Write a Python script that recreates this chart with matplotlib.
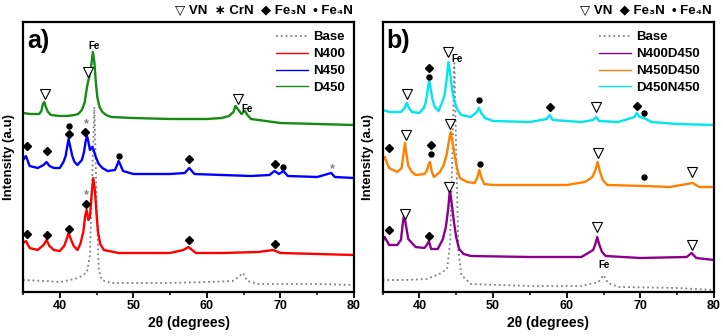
import matplotlib
matplotlib.use("Agg")
import matplotlib.pyplot as plt
from matplotlib.ticker import MultipleLocator
from matplotlib.lines import Line2D

plt.rcParams['font.family'] = ['Liberation Sans', 'DejaVu Sans']
plt.rcParams['font.weight'] = 'bold'

# ---------------- Panel a data (2theta, intensity a.u.) ----------------
base_a_x = [35, 38, 40, 42, 43, 43.7, 44.1, 44.4, 44.7, 45.0, 45.3, 45.7, 47, 55, 60, 63.5, 64.3, 64.9, 65.5, 67, 75, 80]
base_a_y = [12, 11, 10, 13, 16, 20, 37, 112, 185, 92, 22, 12, 9, 9, 10, 11, 15, 19, 11, 8, 8, 7]

n400_x = [35, 35.4, 35.9, 37, 37.8, 38.2, 38.6, 39.2, 40, 40.6, 40.9, 41.2, 41.5, 41.9, 42.4, 42.8, 43.2, 43.45, 43.65,
          43.9, 44.1, 44.3, 44.55, 44.8, 45.0, 45.2, 45.5, 46, 48, 55, 56.8, 57.5, 58.5, 62, 67, 69, 70, 75, 80]
n400_y = [49, 51, 44, 42, 47, 52, 46, 42, 41, 46, 52, 59, 53, 46, 42, 48, 60, 76, 82,
          72, 75, 95, 114, 100, 78, 60, 48, 42, 39, 39, 42, 45, 39, 39, 40, 42, 39, 38, 37]

n450_x = [35, 35.4, 35.9, 37, 37.8, 38.2, 38.6, 39.2, 40, 40.5, 40.8, 41.0, 41.2, 41.4, 41.7, 42.0, 42.4, 43.0, 43.3,
          43.5, 43.7, 43.9, 44.1, 44.4, 44.6, 44.9, 45.3, 45.8, 46.5, 47.5, 47.8, 48.0, 48.2, 48.6, 50, 55, 57, 57.6,
          58.3, 62, 66, 68.5, 69.2, 69.8, 70.4, 71, 75, 76.9, 77.4, 80]
n450_y = [132, 136, 126, 124, 127, 130, 126, 124, 124, 130, 136, 145, 153, 146, 136, 130, 127, 132, 140,
          150, 156, 150, 142, 145, 142, 135, 128, 124, 121, 122, 127, 131, 128, 121, 118, 118, 119, 124,
          118, 117, 116, 117, 121, 118, 121, 116, 115, 119, 115, 114]

d450_x = [35, 36, 37.2, 37.5, 37.7, 37.9, 38.1, 38.4, 38.8, 40, 41, 42, 42.5, 43, 43.4, 43.7, 43.9, 44.1, 44.3, 44.5,
          44.7, 44.9, 45.1, 45.4, 45.8, 46.3, 47, 50, 55, 60, 62, 63, 63.6, 63.9, 64.1, 64.4, 64.7, 65.0, 65.2, 65.5,
          66, 70, 75, 80]
d450_y = [179, 178, 178, 181, 188, 190, 185, 180, 177, 176, 176, 177, 178, 182, 190, 205, 212, 218, 228, 240,
          230, 210, 195, 185, 180, 177, 175, 174, 173, 173, 174, 176, 180, 186, 184, 181, 178, 180, 181, 177,
          173, 169, 168, 167]

# ---------------- Panel b data ----------------
base_b_x = [35, 38, 41, 43, 43.8, 44.2, 44.5, 44.75, 45.0, 45.3, 45.7, 47, 55, 62, 64.3, 65.0, 65.6, 67, 75, 80]
base_b_y = [12, 12, 13, 19, 24, 52, 142, 229, 142, 42, 17, 8, 6, 6, 10, 17, 9, 5, 4, 2]

n400d450_x = [35, 35.3, 35.9, 37, 37.5, 37.75, 37.95, 38.15, 38.5, 39.5, 40.7, 41.1, 41.3, 41.6, 42.5, 43.2, 43.6,
              43.9, 44.15, 44.4, 44.7, 45.0, 45.4, 46, 47, 55, 62, 63.6, 63.9, 64.15, 64.4, 64.8, 65.3, 70, 76.3,
              76.95, 77.6, 80]
n400d450_y = [50, 55, 47, 47, 52, 68, 79, 68, 53, 45, 44, 48, 51, 43, 43, 53, 65,
              82, 102, 88, 70, 55, 43, 38, 36, 35, 35, 42, 48, 55, 48, 40, 36, 34, 35,
              39, 34, 32]

n450d450_x = [35, 35.3, 35.9, 37, 37.6, 37.85, 38.05, 38.25, 38.5, 39, 39.5, 40.7, 41.0, 41.3, 41.45, 41.7, 42, 42.8,
              43.3, 43.7, 44.0, 44.25, 44.5, 44.8, 45.1, 45.5, 46.5, 47.5, 47.9, 48.15, 48.4, 48.8, 50, 60, 62.5, 63.5,
              63.9, 64.2, 64.5, 64.9, 65.5, 70.5, 74, 77.1, 78, 80]
n450d450_y = [132, 135, 124, 120, 124, 138, 149, 138, 126, 120, 117, 118, 121, 128, 130, 120, 115, 120,
              127, 137, 150, 160, 150, 137, 124, 114, 110, 109, 115, 122, 115, 108, 107, 107, 110, 115,
              122, 130, 121, 112, 107, 106, 105, 109, 105, 105]

d450n450_x = [35, 36, 37.5, 38.0, 38.3, 38.6, 39, 40, 40.6, 40.9, 41.15, 41.35, 41.55, 41.8, 42.1, 42.6, 43.0, 43.4,
              43.7, 43.95, 44.2, 44.5, 44.8, 45.2, 45.7, 47, 47.8, 48.1, 48.4, 48.9, 50, 55, 57.3, 57.7, 58.1, 62, 63.6,
              64.0, 64.4, 67, 69.2, 69.5, 69.9, 70.5, 71.5, 75, 80]
d450n450_y = [182, 180, 180, 184, 189, 184, 180, 179, 184, 190, 203, 212, 203, 192, 185, 181, 188, 196,
              212, 230, 218, 200, 190, 182, 177, 175, 180, 184, 179, 174, 171, 170, 173, 177, 172, 170, 172,
              175, 171, 170, 175, 179, 175, 174, 170, 168, 167]

# ---------------- Phase markers (2theta, height) ----------------
vn_a = [(38.05, 198), (43.8, 220), (64.25, 193)]
fe3n_a = [(35.5, 146), (38.2, 141), (41.2, 158), (43.4, 160), (57.6, 133), (69.3, 128),
          (35.5, 58), (38.2, 57), (41.2, 63), (43.5, 88), (57.55, 52), (69.2, 48)]
fe4n_a = [(41.2, 166), (48.05, 136), (70.4, 125)]
crn_a = [(43.65, 168), (77.0, 123), (43.6, 97)]
fe_a = [(44.7, 246), (65.5, 183)]

vn_b = [(38.28, 198), (43.93, 240), (63.97, 185),
        (38.2, 157), (44.16, 168), (64.3, 139), (77.05, 120),
        (38.05, 78), (44.07, 105), (64.1, 65), (76.96, 47)]
fe3n_b = [(41.35, 224), (57.8, 185), (69.6, 186), (35.9, 144), (41.6, 147), (35.9, 62), (41.3, 56)]
fe4n_b = [(41.35, 215), (48.14, 192), (70.5, 179), (41.6, 138), (48.3, 128), (70.5, 115)]
fe_b = [(45.15, 233), (65.1, 27)]

GRAY = '#808080'
W, H = 723, 336
fig = plt.figure(figsize=(W / 100, H / 100), dpi=100)

def make_ax(left_px, right_px):
    top_px, bot_px = 22, 292
    ax = fig.add_axes([left_px / W, 1 - bot_px / H, (right_px - left_px) / W, (bot_px - top_px) / H])
    ax.set_xlim(35, 80)
    ax.set_ylim(0, 270)
    ax.set_yticks([])
    ax.xaxis.set_major_locator(MultipleLocator(10))
    ax.xaxis.set_minor_locator(MultipleLocator(5))
    ax.tick_params(axis='x', which='major', length=4, width=1.3, direction='out', labelsize=9, pad=2)
    ax.tick_params(axis='x', which='minor', length=2.5, width=1.1, direction='out')
    for lab in ax.get_xticklabels():
        lab.set_fontweight('bold')
    for s in ax.spines.values():
        s.set_linewidth(1.6)
    ax.set_xlabel('2θ (degrees)', fontsize=10, fontweight='bold', labelpad=3)
    ax.set_ylabel('Intensity (a.u)', fontsize=9.5, fontweight='bold')
    ax.yaxis.set_label_coords(-0.025, 0.5)
    return ax

def markers(ax, vn=(), fe3n=(), fe4n=(), crn=(), fe=()):
    for x, y in vn:
        ax.plot(x, y, marker='v', ms=6.8, mfc='white', mec='black', mew=0.8, zorder=5)
    for x, y in fe3n:
        ax.plot(x, y, marker='D', ms=4.0, mfc='black', mec='black', zorder=5)
    for x, y in fe4n:
        ax.plot(x, y, marker='o', ms=3.6, mfc='black', mec='black', zorder=5)
    for x, y in crn:
        ax.text(x, y, '*', color=GRAY, fontsize=9, ha='center', va='center', zorder=5)
    for x, y in fe:
        ax.text(x, y, 'Fe', color='black', fontsize=7, fontweight='bold', ha='center', va='center', zorder=5)

# ---------------- Panel a ----------------
axa = make_ax(23, 354)
axa.plot(base_a_x, base_a_y, color=GRAY, ls=':', lw=1.3, label='Base')
axa.plot(n400_x, n400_y, color='#ff0000', lw=1.7, label='N400')
axa.plot(n450_x, n450_y, color='#0000ff', lw=1.7, label='N450')
axa.plot(d450_x, d450_y, color='#158a15', lw=1.7, label='D450')
markers(axa, vn_a, fe3n_a, fe4n_a, crn_a, fe_a)
handles_a = [Line2D([], [], color=GRAY, ls=':', lw=1.3),
             Line2D([], [], color='#ff0000', lw=1.0),
             Line2D([], [], color='#0000ff', lw=1.0),
             Line2D([], [], color='#158a15', lw=1.0)]
axa.legend(handles_a, ['Base', 'N400', 'N450', 'D450'], loc='upper right',
           bbox_to_anchor=(1.0, 1.0), frameon=False, prop={'weight': 'bold', 'size': 9.5},
           handlelength=2.4, handletextpad=0.4, labelspacing=0.35, borderaxespad=0.3)
axa.text(0.012, 0.975, 'a)', transform=axa.transAxes, fontsize=18, fontweight='bold', ha='left', va='top')
fig.text(353 / W, 1 - 11 / H, '▽ VN  ∗ CrN  ◆ Fe₃N  • Fe₄N', fontsize=9.5, fontweight='bold',
         ha='right', va='center')

# ---------------- Panel b ----------------
axb = make_ax(382.5, 714)
axb.plot(base_b_x, base_b_y, color=GRAY, ls=':', lw=1.3)
axb.plot(n400d450_x, n400d450_y, color='#8b008b', lw=1.7)
axb.plot(n450d450_x, n450d450_y, color='#ff8000', lw=1.7)
axb.plot(d450n450_x, d450n450_y, color='#00e5ee', lw=1.7)
markers(axb, vn_b, fe3n_b, fe4n_b, (), fe_b)
handles_b = [Line2D([], [], color=GRAY, ls=':', lw=1.3),
             Line2D([], [], color='#8b008b', lw=1.0),
             Line2D([], [], color='#ff8000', lw=1.0),
             Line2D([], [], color='#00e5ee', lw=1.0)]
axb.legend(handles_b, ['Base', 'N400D450', 'N450D450', 'D450N450'], loc='upper right',
           bbox_to_anchor=(0.985, 1.0), frameon=False, prop={'weight': 'bold', 'size': 9.5},
           handlelength=2.4, handletextpad=0.4, labelspacing=0.35, borderaxespad=0.3)
axb.text(0.012, 0.975, 'b)', transform=axb.transAxes, fontsize=18, fontweight='bold', ha='left', va='top')
fig.text(712 / W, 1 - 11 / H, '▽ VN  ◆ Fe₃N  • Fe₄N', fontsize=9.5, fontweight='bold',
         ha='right', va='center')

fig.savefig('out.png', dpi=100)
